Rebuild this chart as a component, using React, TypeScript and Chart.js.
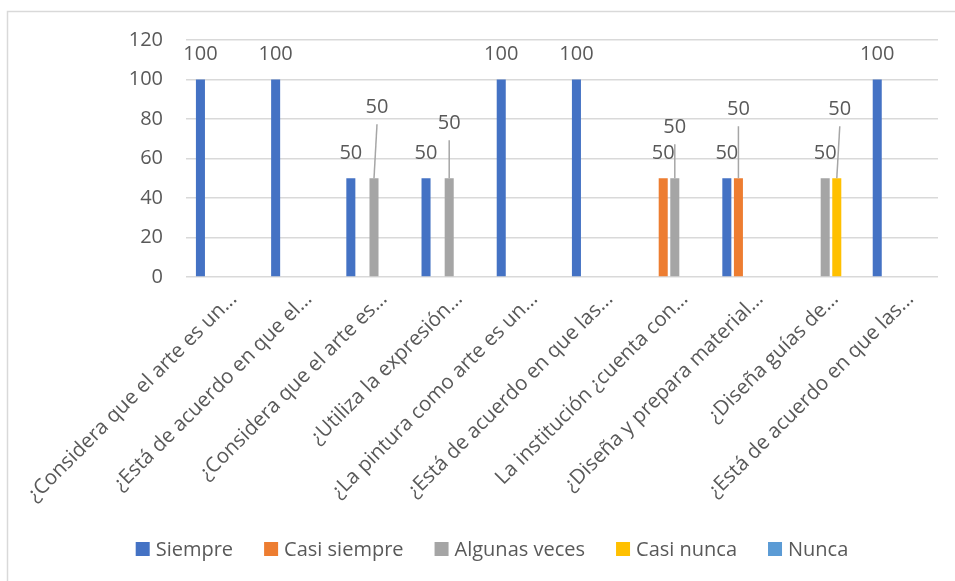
import { useEffect, useRef } from "react";
import { Chart, registerables } from "chart.js";

Chart.register(...registerables);

const categories = [
  "¿Considera que el arte es un...",
  "¿Está de acuerdo en que el...",
  "¿Considera que el arte es...",
  "¿Utiliza la expresión...",
  "¿La pintura como arte es un...",
  "¿Está de acuerdo en que las...",
  "La institución ¿cuenta con...",
  "¿Diseña y prepara material...",
  "¿Diseña guías de...",
  "¿Está de acuerdo en que las...",
];

const seriesNames = ["Siempre", "Casi siempre", "Algunas veces", "Casi nunca", "Nunca"];

const siempre = [100, 100, 50, 50, 100, 100, null, 50, null, 100];
const casiSiempre = [null, null, null, null, null, null, 50, 50, null, null];
const algunasVeces = [null, null, 50, 50, null, null, 50, null, 50, null];
const casiNunca = [null, null, null, null, null, null, null, null, 50, null];
const nunca = [null, null, null, null, null, null, null, null, null, null];

const yTicks = [0, 20, 40, 60, 80, 100, 120];

// styling
const COLORS = ["#4472C4", "#ED7D31", "#A5A5A5", "#FFC000", "#5B9BD5"];
const TEXT = "#595959";
const GRID = "#D9D9D9";
const FONT = '"Open Sans", "DejaVu Sans", sans-serif';
// label callouts (series index, category index, extra lift px, x shift px)
const CALLOUTS = [
  { s: 2, i: 2, lift: 46, dx: 3 },
  { s: 2, i: 3, lift: 30, dx: 0 },
  { s: 2, i: 6, lift: 26, dx: 0 },
  { s: 1, i: 7, lift: 44, dx: 0 },
  { s: 3, i: 8, lift: 44, dx: 3 },
];

const frame = {
  id: "frame",
  beforeDraw(chart: any) {
    const ctx = chart.ctx;
    ctx.save();
    ctx.strokeStyle = GRID;
    ctx.lineWidth = 1.5;
    ctx.beginPath();
    ctx.moveTo(7.5, 581);
    ctx.lineTo(7.5, 11.5);
    ctx.lineTo(955, 11.5);
    ctx.stroke();
    ctx.restore();
  },
};

const dataLabels = {
  id: "dataLabels",
  afterDatasetsDraw(chart: any) {
    const ctx = chart.ctx;
    ctx.save();
    ctx.font = `20px ${FONT}`;
    ctx.fillStyle = TEXT;
    ctx.textAlign = "center";
    ctx.textBaseline = "middle";
    chart.data.datasets.forEach((ds: any, s: number) => {
      const meta = chart.getDatasetMeta(s);
      meta.data.forEach((el: any, i: number) => {
        const v = ds.data[i];
        if (v === null || v === undefined) return;
        const c = CALLOUTS.find((o) => o.s === s && o.i === i);
        const lift = c ? c.lift : 0;
        const dx = c ? c.dx : 0;
        const lx = el.x + dx;
        const ly = el.y - 25 - lift;
        if (c) {
          ctx.save();
          ctx.strokeStyle = "#A6A6A6";
          ctx.lineWidth = 1.5;
          ctx.beginPath();
          ctx.moveTo(el.x, el.y);
          ctx.lineTo(lx, ly + 17);
          ctx.stroke();
          ctx.restore();
        }
        ctx.fillText(String(v), lx, ly);
      });
    });
    ctx.restore();
  },
};

const customLegend = {
  id: "customLegend",
  afterDraw(chart: any) {
    const ctx = chart.ctx;
    ctx.save();
    ctx.font = `20px ${FONT}`;
    ctx.textBaseline = "middle";
    ctx.textAlign = "left";
    const box = 14;
    const gapBT = 6;
    const gapItem = 31;
    const items = chart.data.datasets.map((ds: any) => ({
      label: ds.label,
      color: ds.backgroundColor,
      w: ctx.measureText(ds.label).width,
    }));
    let total = 0;
    items.forEach((it: any, k: number) => {
      total += box + gapBT + it.w + (k > 0 ? gapItem : 0);
    });
    let x = 492 - total / 2;
    const cy = 549;
    items.forEach((it: any) => {
      ctx.fillStyle = it.color;
      ctx.fillRect(x, cy - box / 2, box, box);
      ctx.fillStyle = TEXT;
      ctx.fillText(it.label, x + box + gapBT, cy + 1);
      x += box + gapBT + it.w + gapItem;
    });
    ctx.restore();
  },
};

export default function App() {
  const ref = useRef<HTMLCanvasElement>(null);
  useEffect(() => {
    if (!ref.current) return;
    const series = [siempre, casiSiempre, algunasVeces, casiNunca, nunca];
    const chart = new Chart(ref.current, {
      type: "bar",
      data: {
        labels: categories,
        datasets: series.map((d, k) => ({
          label: seriesNames[k],
          data: d as any,
          backgroundColor: COLORS[k],
          borderWidth: 0,
          categoryPercentage: 0.77,
          barPercentage: 0.78,
        })),
      },
      options: {
        responsive: false,
        animation: false,
        layout: { padding: { top: 40, right: 17, left: 0, bottom: 0 } },
        plugins: {
          legend: { display: false },
          tooltip: { enabled: false },
        },
        scales: {
          x: {
            grid: { display: false, drawTicks: false },
            border: { display: false },
            ticks: {
              color: TEXT,
              font: { family: FONT, size: 20.5 },
              maxRotation: 45,
              minRotation: 45,
              autoSkip: false,
              padding: 10,
              labelOffset: 10,
            },
            afterFit(scale: any) {
              scale.height = 581 - 277;
            },
          },
          y: {
            min: 0,
            max: 120,
            grid: { color: GRID, lineWidth: 1.5, drawTicks: false },
            border: { display: false },
            ticks: {
              color: TEXT,
              font: { family: FONT, size: 20 },
              padding: 23,
            },
            afterBuildTicks(scale: any) {
              scale.ticks = yTicks.map((v) => ({ value: v }));
            },
            afterFit(scale: any) {
              scale.width = 186;
            },
          },
        },
      },
      plugins: [frame, dataLabels, customLegend],
    });
    return () => chart.destroy();
  }, []);
  return (
    <div style={{ position: "fixed", left: 0, top: 0, width: 955, height: 581, background: "#fff" }}>
      <canvas ref={ref} width={955} height={581} style={{ width: 955, height: 581 }} />
    </div>
  );
}
